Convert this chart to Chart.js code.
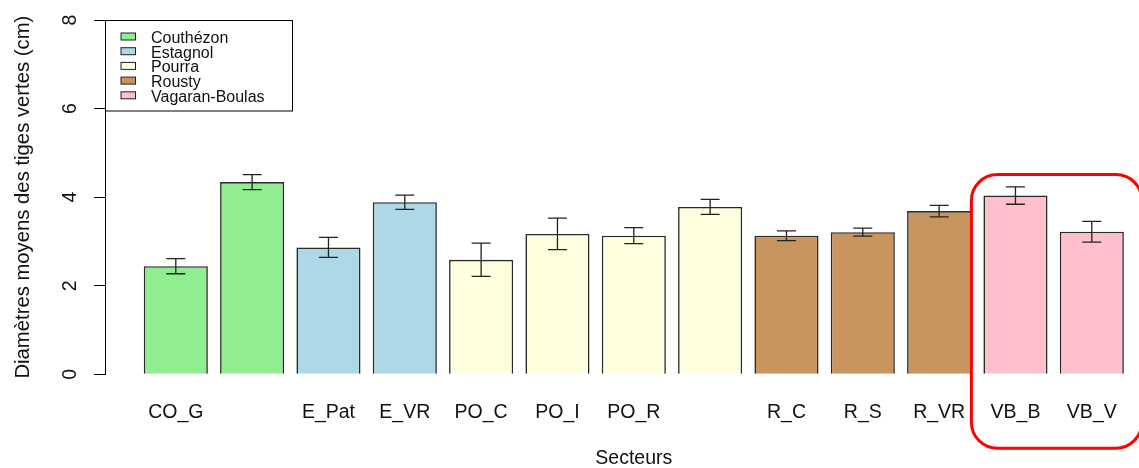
<!DOCTYPE html>
<html>
<head>
<meta charset="utf-8">
<script src="https://cdn.jsdelivr.net/npm/chart.js@4.4.1/dist/chart.umd.min.js"></script>
<style>
  html, body { margin: 0; padding: 0; background: #fff; overflow: hidden; }
  #wrap { width: 1139px; height: 468px; position: relative; }
</style>
</head>
<body>
<div id="wrap"><canvas id="diamChart"></canvas></div>
<script>
// sector labels (two of them are not printed under their bar)
const sectorLabels = ['CO_G', '', 'E_Pat', 'E_VR', 'PO_C', 'PO_I', 'PO_R', '', 'R_C', 'R_S', 'R_VR', 'VB_B', 'VB_V'];
const sectorSite = [0, 0, 1, 1, 2, 2, 2, 2, 3, 3, 3, 4, 4];
const meanDiam = [2.44, 4.34, 2.865, 3.885, 2.585, 3.17, 3.13, 3.78, 3.13, 3.21, 3.685, 4.035, 3.22];
const seDiam = [0.17, 0.17, 0.225, 0.16, 0.375, 0.355, 0.18, 0.17, 0.11, 0.09, 0.13, 0.195, 0.235];
const siteNames = ['Couthézon', 'Estagnol', 'Pourra', 'Rousty', 'Vagaran-Boulas'];
const siteColors = ['#90EE90', '#ADD8E6', '#FFFFE0', '#C8955F', '#FFC0CB'];
const yTicks = [0, 2, 4, 6, 8];

const FONT = '"Liberation Sans", Arial, sans-serif';
const INK = '#111';

// barplot layout: unit-wide bars separated by 0.2
const barPos = sectorLabels.map((_, i) => 0.7 + 1.2 * i);

const errorBars = {
    id: 'errorBars',
    afterDatasetsDraw(chart) {
        const { ctx, scales: { x, y } } = chart;
        ctx.save();
        ctx.strokeStyle = '#222';
        ctx.lineWidth = 1.3;
        meanDiam.forEach((m, i) => {
            const px = x.getPixelForValue(barPos[i]);
            const top = y.getPixelForValue(m + seDiam[i]);
            const bot = y.getPixelForValue(m - seDiam[i]);
            ctx.beginPath();
            ctx.moveTo(px, top); ctx.lineTo(px, bot);
            ctx.moveTo(px - 9.5, top); ctx.lineTo(px + 9.5, top);
            ctx.moveTo(px - 9.5, bot); ctx.lineTo(px + 9.5, bot);
            ctx.stroke();
        });
        ctx.restore();
    }
};

const boxedLegend = {
    id: 'boxedLegend',
    afterDraw(chart) {
        const { ctx, chartArea } = chart;
        const left = chartArea.left + 0.5, top = chartArea.top + 0.5;
        ctx.save();
        ctx.strokeStyle = '#000';
        ctx.lineWidth = 1;
        ctx.strokeRect(left, top, 187, 90.5);
        ctx.font = '16px ' + FONT;
        ctx.textBaseline = 'middle';
        siteNames.forEach((name, i) => {
            const cy = top + 17.5 + 14.7 * i;
            ctx.fillStyle = siteColors[i];
            ctx.fillRect(left + 15.5, cy - 5, 14.5, 7);
            ctx.strokeStyle = '#222';
            ctx.strokeRect(left + 15.5, cy - 5, 14.5, 7);
            ctx.fillStyle = INK;
            ctx.fillText(name, left + 45.5, cy + 0.5);
        });
        ctx.restore();
    }
};

const xTitle = {
    id: 'xTitle',
    afterDraw(chart) {
        const { ctx, scales: { x } } = chart;
        ctx.save();
        ctx.font = '19.5px ' + FONT;
        ctx.fillStyle = INK;
        ctx.textAlign = 'center';
        ctx.textBaseline = 'middle';
        // centred on the middle of the full barplot range
        ctx.fillText('Secteurs', x.getPixelForValue(7.9), 459);
        ctx.restore();
    }
};

const highlight = {
    id: 'highlight',
    afterDraw(chart) {
        const { ctx, chartArea } = chart;
        const meta = chart.getDatasetMeta(0).data;
        const b1 = meta[11], b2 = meta[12];
        const left = b1.x - b1.width / 2 - 12;
        const right = b2.x + b2.width / 2 + 18;
        const top = chartArea.top + 154.5;
        const bottom = chartArea.bottom + 74;
        ctx.save();
        ctx.strokeStyle = '#FF0000';
        ctx.lineWidth = 3;
        ctx.beginPath();
        ctx.roundRect(left, top, right - left, bottom - top, 26);
        ctx.stroke();
        ctx.restore();
    }
};

new Chart(document.getElementById('diamChart'), {
    type: 'bar',
    data: {
        datasets: [{
            data: meanDiam.map((v, i) => ({ x: barPos[i], y: v })),
            backgroundColor: sectorSite.map(s => siteColors[s]),
            borderColor: '#2a2a2a',
            borderWidth: 1.6,
            barPercentage: 0.84,
            categoryPercentage: 1,
        }],
    },
    options: {
        responsive: true,
        maintainAspectRatio: false,
        animation: false,
        layout: { padding: { top: 20, left: 0, right: 0, bottom: 0 } },
        plugins: { legend: { display: false }, tooltip: { enabled: false } },
        scales: {
            x: {
                type: 'linear',
                bounds: 'data',
                offset: false,
                min: -0.413,
                max: 15.842,
                grid: { display: false, offset: false },
                border: { display: false },
                afterBuildTicks: (scale) => { scale.ticks = barPos.map(v => ({ value: v })); },
                afterFit: (scale) => {
                    scale.height = 93.7;
                    scale.paddingLeft = 0;
                    scale.paddingRight = 0;
                },
                ticks: {
                    autoSkip: false,
                    maxRotation: 0,
                    padding: 18.5,
                    color: INK,
                    font: { family: FONT, size: 19.5 },
                    callback: (value, index) => sectorLabels[index],
                },
            },
            y: {
                min: 0,
                max: 8,
                afterBuildTicks: (scale) => { scale.ticks = yTicks.map(v => ({ value: v })); },
                afterFit: (scale) => {
                    scale.width = 105;
                    scale.paddingTop = 0;
                    scale.paddingBottom = 0;
                },
                border: { display: true, color: '#000', width: 1 },
                grid: { drawOnChartArea: false, drawTicks: true, tickLength: 11, color: '#000' },
                ticks: {
                    minRotation: 90,
                    maxRotation: 90,
                    crossAlign: 'center',
                    padding: 18,
                    color: INK,
                    font: { family: FONT, size: 19.5 },
                },
                title: {
                    display: true,
                    text: 'Diamètres moyens des tiges vertes (cm)',
                    color: INK,
                    font: { family: FONT, size: 20.3 },
                    padding: { top: 11, bottom: 0 },
                },
            },
        },
    },
    plugins: [errorBars, boxedLegend, xTitle, highlight],
});
</script>
</body>
</html>
